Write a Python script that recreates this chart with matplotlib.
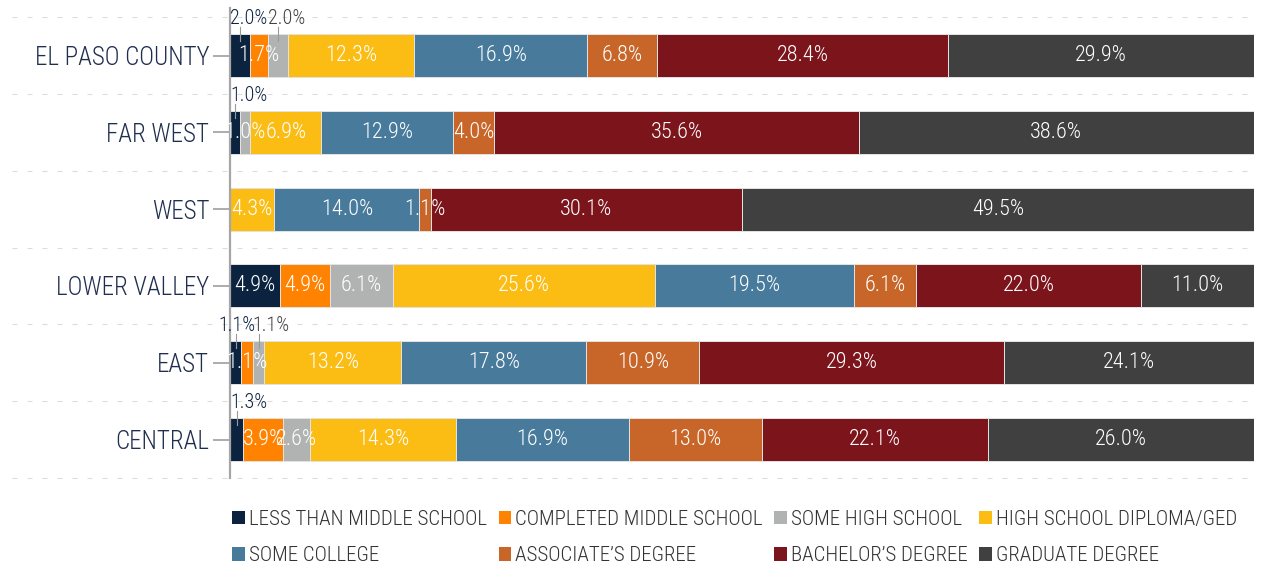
import matplotlib
matplotlib.use('Agg')
import matplotlib.pyplot as plt
import numpy as np
from matplotlib import font_manager
from matplotlib.patches import Patch

regions = ['EL PASO COUNTY', 'FAR WEST', 'WEST', 'LOWER VALLEY', 'EAST', 'CENTRAL']
levels = [
    'LESS THAN MIDDLE SCHOOL',
    'COMPLETED MIDDLE SCHOOL',
    'SOME HIGH SCHOOL',
    'HIGH SCHOOL DIPLOMA/GED',
    'SOME COLLEGE',
    'ASSOCIATE\u2019S DEGREE',
    'BACHELOR\u2019S DEGREE',
    'GRADUATE DEGREE',
]
less_than_middle = [2.0, 1.0, 0.0, 4.9, 1.1, 1.3]
completed_middle = [1.7, 0.0, 0.0, 4.9, 1.1, 3.9]
some_high = [2.0, 1.0, 0.0, 6.1, 1.1, 2.6]
hs_diploma = [12.3, 6.9, 4.3, 25.6, 13.2, 14.3]
some_college = [16.9, 12.9, 14.0, 19.5, 17.8, 16.9]
associates = [6.8, 4.0, 1.1, 6.1, 10.9, 13.0]
bachelors = [28.4, 35.6, 30.1, 22.0, 29.3, 22.1]
graduate = [29.9, 38.6, 49.5, 11.0, 24.1, 26.0]

colors = ['#0c2340', '#ff8200', '#b1b3b3', '#fbbd14', '#487a9c',
          '#c8662a', '#7c141c', '#404040']
# segments too narrow for an inside label: (row, level) -> label colour
callouts = {
    (0, 0): '#0c2340', (0, 2): '#404040',
    (1, 0): '#0c2340',
    (4, 0): '#0c2340', (4, 2): '#404040',
    (5, 0): '#0c2340',
}
callout_nudge = {(4, 0): -1.1}

available = {f.name for f in font_manager.fontManager.ttflist}
if 'Roboto Condensed' in available:
    plt.rcParams['font.family'] = ['Roboto Condensed', 'DejaVu Sans']
else:
    plt.rcParams['font.family'] = ['Roboto', 'DejaVu Sans']
plt.rcParams['font.weight'] = 'light'

values = np.array([less_than_middle, completed_middle, some_high, hs_diploma,
                   some_college, associates, bachelors, graduate]).T
shares = values / values.sum(axis=1, keepdims=True) * 100

fig = plt.figure(figsize=(12.7, 5.67), dpi=100)
ax = fig.add_axes([0.1811, 0.157, 0.8063, 0.829])

y = np.arange(len(regions))
height = 0.56
left = np.zeros(len(regions))
for j, level in enumerate(levels):
    ax.barh(y, shares[:, j], left=left, height=height, color=colors[j],
            edgecolor='#e3e3e3', linewidth=0.7, zorder=2)
    for i in range(len(regions)):
        if values[i, j] == 0:
            continue
        cx = left[i] + shares[i, j] / 2
        text = f'{values[i, j]:.1f}%'
        if (i, j) in callouts:
            top = y[i] - height / 2
            ax.plot([cx, cx], [top - 0.09, top + 0.09], color='#9a9a9a',
                    lw=0.8, zorder=3)
            ax.text(left[i] + callout_nudge.get((i, j), 0), top - 0.2, text,
                    ha='left', va='center', fontsize=14.5,
                    color=callouts[(i, j)], zorder=4)
        else:
            ax.text(cx, y[i], text, ha='center', va='center', fontsize=16,
                    color='white', zorder=4)
    left += shares[:, j]

# dashed separators reaching into the label area
for k in range(len(regions) + 1):
    ax.plot([-0.213, 1.0], [k - 0.5, k - 0.5],
            transform=ax.get_yaxis_transform(), clip_on=False,
            color='#dcdcdc', lw=0.8, linestyle=(0, (4.5, 9)), zorder=0)

ax.set_xlim(0, 100)
ax.set_ylim(5.5, -0.62)
ax.set_yticks(y)
ax.set_yticklabels(regions)
ax.set_xticks([])
for side in ['top', 'right', 'bottom']:
    ax.spines[side].set_visible(False)
ax.spines['left'].set_color('#a6a6a6')
ax.spines['left'].set_linewidth(1.6)
ax.tick_params(axis='y', length=12, width=1.3, color='#a6a6a6', pad=3,
               labelsize=18, labelcolor='#1f2d4e')

handles = [Patch(facecolor=c, label=l) for c, l in zip(colors, levels)]
order = [0, 4, 1, 5, 2, 6, 3, 7]
fig.legend([handles[k] for k in order], [levels[k] for k in order],
           loc='upper left', bbox_to_anchor=(0.183, 0.101), ncol=4,
           frameon=False, fontsize=15, labelcolor='#333333',
           handlelength=0.6, handleheight=0.6, handletextpad=0.2,
           columnspacing=0.55, labelspacing=0.85, borderaxespad=0,
           borderpad=0)

fig.savefig('out.png', dpi=100)
